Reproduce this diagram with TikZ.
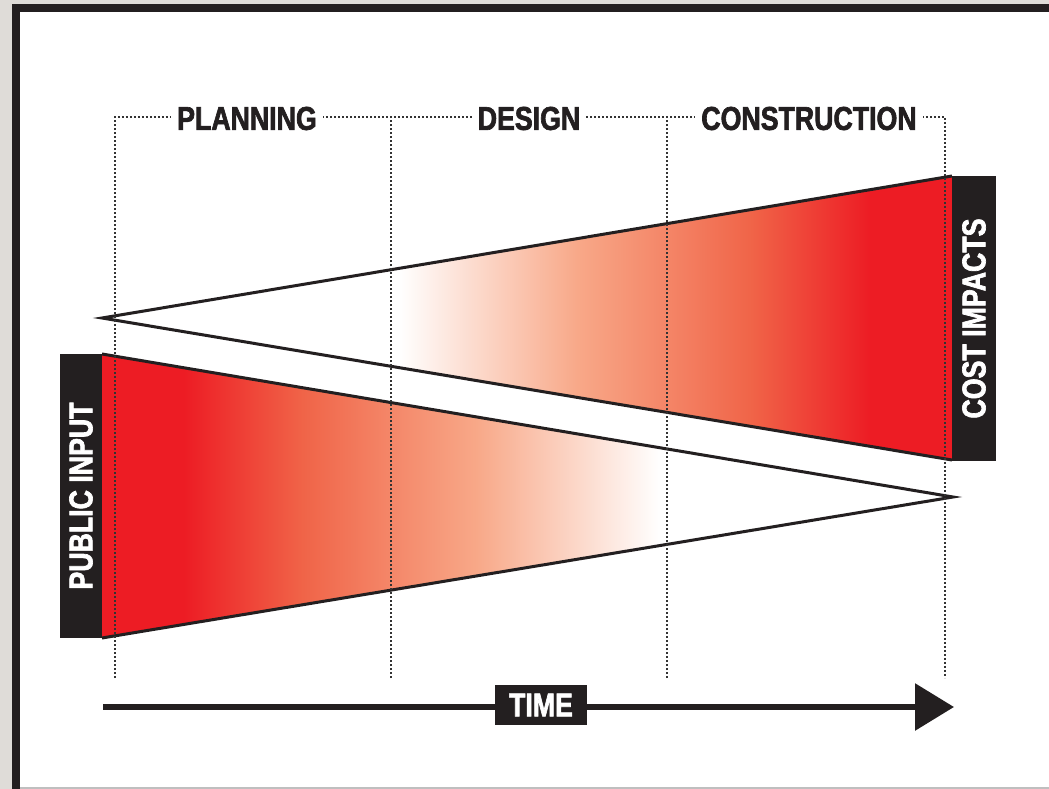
\documentclass[tikz,border=0pt]{standalone}
\usepackage{fontspec}
\usetikzlibrary{arrows.meta}
\newfontfamily\cond{Liberation Sans Bold}[FakeStretch=0.81,FakeBold=2]
\definecolor{bgray}{HTML}{DFDCD8}
\definecolor{ink}{HTML}{231F20}
\definecolor{dotc}{HTML}{333333}
\definecolor{pred}{HTML}{ED1C24}
\definecolor{sa}{HTML}{F8A888}
\definecolor{sb}{HTML}{F06448}
\pgfdeclarehorizontalshading{upshade}{100bp}{color(0bp)=(white); color(42.46bp)=(white); color(53bp)=(sa); color(63.2bp)=(sb); color(70.2bp)=(pred); color(100bp)=(pred)}
\pgfdeclarehorizontalshading{loshade}{100bp}{color(0bp)=(pred); color(29.8bp)=(pred); color(36.8bp)=(sb); color(47bp)=(sa); color(57.8bp)=(white); color(100bp)=(white)}
\tikzset{
  lbl/.style={font=\cond\fontsize{33}{33}\selectfont, text=ink, fill=white, inner xsep=6pt, inner ysep=2pt},
  blackbox/.style={font=\cond\fontsize{33}{33}\selectfont, text=white, fill=ink, inner sep=0pt},
  dots/.style={draw=dotc, line width=1.8pt, dash pattern=on 1.6pt off 2.4pt},
  outline/.style={draw=ink, line width=3pt, line join=miter},
}
\begin{document}
\begin{tikzpicture}[x=1pt,y=-1pt]
\useasboundingbox (0,0) rectangle (1049,789);
% frame
\fill[bgray] (0,0) rectangle (1049,789);
\fill[ink] (12,4) rectangle (1049,789);
\fill[white] (20,12) rectangle (1049,787);
\fill[black!25] (20,787) rectangle (1049,789);
% triangle corners
\coordinate (ut) at (102,318);
\coordinate (ua) at (952,176);
\coordinate (ub) at (952,460);
\coordinate (lt) at (953,497);
\coordinate (la) at (102,354);
\coordinate (lb) at (102,638);
% shaded triangles
\shade[shading=upshade] (ut) -- (ua) -- (ub) -- cycle;
\shade[shading=loshade] (lt) -- (la) -- (lb) -- cycle;
\draw[outline] (ub) -- (ut) -- (ua);
\draw[outline] (la) -- (lt) -- (lb);
% dotted phase lines
\coordinate (d1b) at (115,678);
\coordinate (d1t) at (115,117);
\coordinate (d2b) at (391,678);
\coordinate (d2t) at (391,117);
\coordinate (d3b) at (667,678);
\coordinate (d3t) at (667,117);
\coordinate (d4b) at (945,678);
\coordinate (d4t) at (945,117);
\draw[dots] (d1b) -- (d1t) -- (d4t) -- (d4b);
\draw[dots] (d2b) -- (d2t);
\draw[dots] (d3b) -- (d3t);
% phase labels
\node[lbl] (plan) at (247,118.5) {PLANNING};
\node[lbl] (des) at (529,118.5) {DESIGN};
\node[lbl] (cons) at (809,118.5) {CONSTRUCTION};
% side boxes
\node[blackbox, rotate=90, minimum width=284pt, minimum height=42pt] (pub) at (81,496) {PUBLIC INPUT};
\node[blackbox, rotate=90, minimum width=285pt, minimum height=44pt] (cost) at (974,318.5) {COST IMPACTS};
% time arrow
\coordinate (ts) at (103,707);
\coordinate (te) at (954,707);
\draw[ink, line width=6pt, -{Triangle[length=39pt,width=46pt]}] (ts) -- (te);
\node[blackbox, minimum width=92pt, minimum height=40pt] (time) at (541,705) {TIME};
\end{tikzpicture}
\end{document}
